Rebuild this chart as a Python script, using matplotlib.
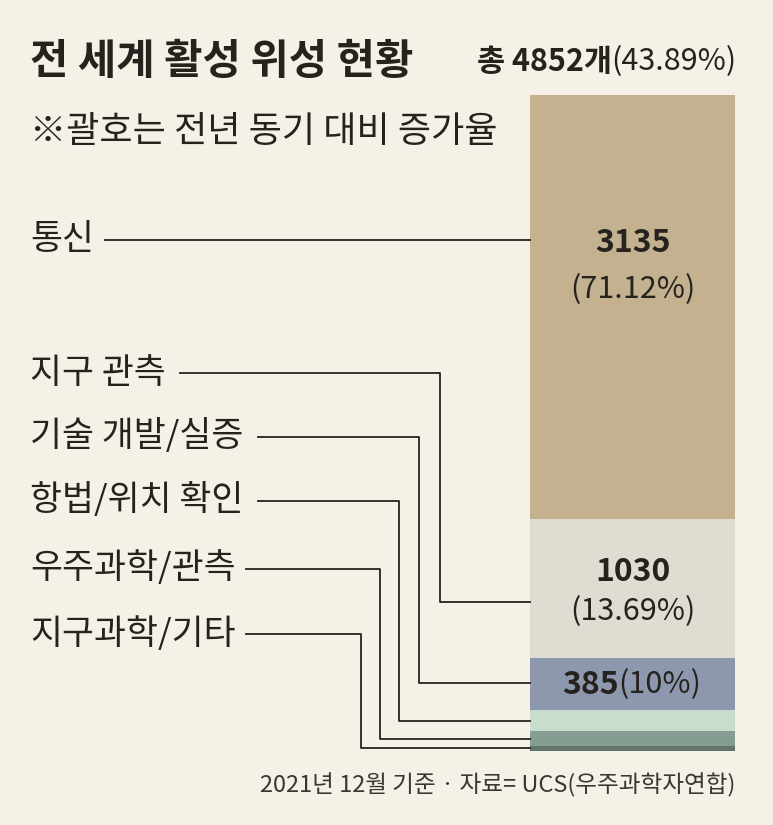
import matplotlib.pyplot as plt

plt.rcParams['font.family'] = ['Noto Sans CJK KR', 'DejaVu Sans']

# data
categories = ['통신', '지구 관측', '기술 개발/실증', '항법/위치 확인', '우주과학/관측', '지구과학/기타']
counts = [3135, 1030, 385, 156, 108, 38]
growth = ['71.12%', '13.69%', '10%', None, None, None]
total = 4852
total_growth = '43.89%'
colors = ['#C3B190', '#DFDCD1', '#8D97AE', '#C8DDCB', '#869D91', '#617568']

bg = '#F5F1E6'
ink = '#26221E'
W, H = 773, 825

fig = plt.figure(figsize=(W / 100, H / 100), dpi=100, facecolor=bg)

# stacked bar
bx0, bx1, by0, by1 = 530, 735, 95, 751
axb = fig.add_axes([bx0 / W, (H - by1) / H, (bx1 - bx0) / W, (by1 - by0) / H])
axb.set_xlim(-0.5, 0.5)
axb.set_ylim(total, 0)
axb.axis('off')
bottom = 0
mids = []
for c, col in zip(counts, colors):
    axb.bar(0, c, bottom=bottom, width=1, color=col, edgecolor='none')
    mids.append(bottom)
    bottom += c

# overlay for text and leader lines (pixel coords)
ov = fig.add_axes([0, 0, 1, 1])
ov.set_xlim(0, W)
ov.set_ylim(H, 0)
ov.axis('off')
ov.set_zorder(5)

# titles
ov.text(30, 62, '전 세계 활성 위성 현황', fontsize=30, fontweight='bold', color=ink, va='center')
t2 = ov.text(737, 62, '(' + total_growth + ')', fontsize=22, color=ink, ha='right', va='center')
ov.annotate('총 4852개', xy=(0, 0.5), xycoords=t2, fontsize=22, fontweight='bold',
            color=ink, ha='right', va='center')
ov.text(30, 132, '※괄호는 전년 동기 대비 증가율', fontsize=26, color=ink, va='center')

# value labels in bar
bc = (bx0 + bx1) / 2
ov.text(bc, 243, str(counts[0]), fontsize=23, fontweight='bold', color=ink, ha='center', va='center')
ov.text(bc, 290, '(' + growth[0] + ')', fontsize=22, color=ink, ha='center', va='center')
ov.text(bc, 572, str(counts[1]), fontsize=23, fontweight='bold', color=ink, ha='center', va='center')
ov.text(bc, 612, '(' + growth[1] + ')', fontsize=22, color=ink, ha='center', va='center')
v3 = ov.text(bc - 14, 685, '(' + growth[2] + ')', fontsize=22, color=ink, ha='left', va='center')
ov.annotate(str(counts[2]), xy=(0, 0.5), xycoords=v3, fontsize=23, fontweight='bold',
            color=ink, ha='right', va='center')

# category labels and leader lines
label_y = [240, 373, 437, 501, 569, 634]
line_x0 = [105, 180, 258, 258, 246, 246]
elbow_x = [None, 440, 419, 399, 380, 361]
seg_frac = [None, 0.6, 0.48, 0.5, 0.5, 0.5]


def to_ov(yv):
    disp = axb.transData.transform((0, yv))
    return ov.transData.inverted().transform(disp)[1]


for i, name in enumerate(categories):
    ov.text(30, label_y[i], name, fontsize=25, color=ink, va='center')
    if elbow_x[i] is None:
        ov.plot([line_x0[i], bx0], [label_y[i], label_y[i]], color=ink, lw=1.3)
    else:
        ye = to_ov(mids[i] + seg_frac[i] * counts[i])
        ov.plot([line_x0[i], elbow_x[i], elbow_x[i], bx0],
                [label_y[i], label_y[i], ye, ye], color=ink, lw=1.3)

ov.text(bx1, 785, '2021년 12월 기준 · 자료= UCS(우주과학자연합)', fontsize=17,
        color='#3a3632', ha='right', va='center')

fig.savefig('out.png', dpi=100, facecolor=bg)
